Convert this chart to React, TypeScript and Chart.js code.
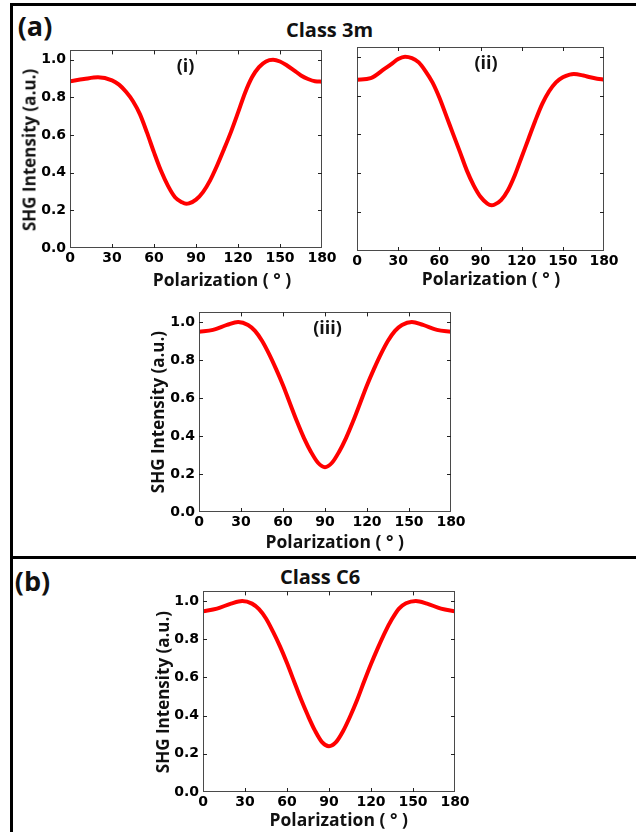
import React, { useEffect, useRef } from 'react';
import { Chart, registerables } from 'chart.js';

Chart.register(...registerables);

// ---------- data ----------
const X_TICKS = [0, 30, 60, 90, 120, 150, 180];
const Y_TICKS = [0, 0.2, 0.4, 0.6, 0.8, 1.0];

const X_TITLE = 'Polarization ( ° )';
const Y_TITLE = 'SHG Intensity (a.u.)';

// Class 3m (i)
const ANGLES_I = [0, 10, 20, 30, 35, 40, 45, 50, 55, 60, 65, 70, 75, 80, 83, 85, 90, 95, 100, 105, 110, 115, 120, 125, 130, 135, 140, 145, 150, 155, 160, 165, 170, 175, 180];
const SHG_I = [0.886, 0.898, 0.907, 0.891, 0.868, 0.83, 0.78, 0.71, 0.613, 0.508, 0.41, 0.33, 0.27, 0.243, 0.235, 0.237, 0.257, 0.297, 0.358, 0.437, 0.525, 0.617, 0.719, 0.824, 0.907, 0.961, 0.991, 1.0, 0.991, 0.97, 0.944, 0.917, 0.898, 0.886, 0.884];

// Class 3m (ii)
const ANGLES_II = [0, 10, 20, 25, 30, 35, 40, 45, 50, 55, 60, 65, 70, 75, 80, 85, 90, 95, 98, 100, 105, 110, 115, 120, 125, 130, 135, 140, 145, 150, 155, 158, 165, 170, 175, 180];
const SHG_II = [0.882, 0.89, 0.937, 0.962, 0.988, 1.0, 0.993, 0.971, 0.925, 0.868, 0.79, 0.697, 0.603, 0.51, 0.415, 0.338, 0.279, 0.244, 0.236, 0.238, 0.262, 0.313, 0.39, 0.484, 0.578, 0.672, 0.757, 0.822, 0.868, 0.894, 0.908, 0.911, 0.903, 0.894, 0.887, 0.882];

// Class 3m (iii)
const ANGLES_III = [0, 10, 20, 28, 35, 40, 45, 50, 55, 60, 65, 70, 75, 80, 85, 90, 95, 100, 105, 110, 115, 120, 125, 130, 135, 140, 145, 152, 160, 170, 180];
const SHG_III = [0.948, 0.958, 0.984, 1.0, 0.984, 0.953, 0.901, 0.832, 0.753, 0.667, 0.571, 0.476, 0.389, 0.316, 0.259, 0.236, 0.259, 0.316, 0.389, 0.476, 0.571, 0.667, 0.753, 0.832, 0.901, 0.953, 0.984, 1.0, 0.984, 0.958, 0.948];

// Class C6
const ANGLES_C6 = [0, 10, 20, 28, 35, 40, 45, 50, 55, 60, 65, 70, 75, 80, 85, 90, 95, 100, 105, 110, 115, 120, 125, 130, 135, 140, 145, 152, 160, 170, 180];
const SHG_C6 = [0.946, 0.96, 0.986, 1.0, 0.986, 0.957, 0.908, 0.839, 0.762, 0.675, 0.58, 0.485, 0.399, 0.321, 0.261, 0.24, 0.261, 0.318, 0.394, 0.48, 0.577, 0.67, 0.756, 0.836, 0.905, 0.96, 0.988, 1.0, 0.986, 0.96, 0.946];

// ---------- layout ----------
const YW = 45; // y-axis box width
const XH = 25; // x-axis box height
const PT = 10;
const PR = 20;

const TITLE_FONT = '"Open Sans", Lato, sans-serif';
const TICK_FONT = '"DejaVu Sans", sans-serif';

const framePlugin = {
  id: 'frameTicks',
  afterDraw(chart: any) {
    const { ctx, chartArea } = chart;
    const { left, top, right, bottom } = chartArea;
    const xs = chart.scales.x;
    const ys = chart.scales.y;
    ctx.save();
    ctx.strokeStyle = '#4a4a4a';
    ctx.lineWidth = 1;
    ctx.strokeRect(Math.round(left) + 0.5, Math.round(top) + 0.5, Math.round(right - left) - 1, Math.round(bottom - top) - 1);
    ctx.strokeStyle = '#222';
    ctx.beginPath();
    const tl = 4;
    X_TICKS.forEach((v) => {
      if (v === X_TICKS[0] || v === X_TICKS[X_TICKS.length - 1]) return;
      const px = Math.round(xs.getPixelForValue(v)) + 0.5;
      ctx.moveTo(px, bottom);
      ctx.lineTo(px, bottom - tl);
      ctx.moveTo(px, top);
      ctx.lineTo(px, top + tl);
    });
    Y_TICKS.forEach((v) => {
      if (v === 0) return;
      const py = Math.round(ys.getPixelForValue(v)) + 0.5;
      ctx.moveTo(left, py);
      ctx.lineTo(left + tl, py);
      ctx.moveTo(right, py);
      ctx.lineTo(right - tl, py);
    });
    ctx.stroke();
    ctx.restore();
  },
};

type Rect = { l: number; t: number; r: number; b: number };

function Panel({ angles, values, rect, showY }: { angles: number[]; values: number[]; rect: Rect; showY: boolean }) {
  const ref = useRef<HTMLCanvasElement | null>(null);
  const w = rect.r - rect.l + YW + PR;
  const h = rect.b - rect.t + PT + XH;
  useEffect(() => {
    if (!ref.current) return;
    const chart = new Chart(ref.current, {
      type: 'line',
      data: {
        datasets: [
          {
            data: angles.map((a, i) => ({ x: a, y: values[i] })),
            borderColor: '#ff0000',
            borderWidth: 4,
            pointRadius: 0,
            cubicInterpolationMode: 'monotone',
            fill: false,
          },
        ],
      },
      options: {
        animation: false,
        responsive: false,
        maintainAspectRatio: false,
        layout: { padding: { left: 0, top: PT, right: PR, bottom: 0 } },
        plugins: { legend: { display: false }, tooltip: { enabled: false } },
        scales: {
          x: {
            type: 'linear',
            min: 0,
            max: 180,
            afterBuildTicks: (s: any) => {
              s.ticks = X_TICKS.map((v) => ({ value: v }));
            },
            afterFit: (s: any) => {
              s.height = XH;
            },
            grid: { display: false, drawTicks: false },
            border: { display: false },
            ticks: {
              font: { family: TICK_FONT, weight: 'bold', size: 14 },
              color: '#000',
              padding: 2,
              maxRotation: 0,
              autoSkip: false,
              callback: (v: any) => String(v),
            },
          },
          y: {
            type: 'linear',
            min: 0,
            max: 1.05,
            afterBuildTicks: (s: any) => {
              s.ticks = Y_TICKS.map((v) => ({ value: v }));
            },
            afterFit: (s: any) => {
              s.width = YW;
            },
            grid: { display: false, drawTicks: false },
            border: { display: false },
            ticks: {
              display: showY,
              font: { family: TICK_FONT, weight: 'bold', size: 14 },
              color: '#000',
              padding: 4,
              autoSkip: false,
              callback: (v: any) => Number(v).toFixed(1),
            },
          },
        },
      } as any,
      plugins: [framePlugin],
    });
    return () => chart.destroy();
  }, []);
  return (
    <canvas
      ref={ref}
      width={w}
      height={h}
      style={{ position: 'absolute', left: rect.l - YW, top: rect.t - PT, width: w, height: h }}
    />
  );
}

function Label({ text, cx, cy, size, rotate }: { text: string; cx: number; cy: number; size: number; rotate?: boolean }) {
  return (
    <div
      style={{
        position: 'absolute',
        left: cx,
        top: cy,
        transform: `translate(-50%, -50%)${rotate ? ' rotate(-90deg)' : ''}`,
        fontFamily: TITLE_FONT,
        fontWeight: 700,
        fontSize: size,
        lineHeight: 1,
        whiteSpace: 'nowrap',
        color: '#111',
      }}
    >
      {text}
    </div>
  );
}

const line = (l: number, t: number, w: number, h: number) => (
  <div style={{ position: 'absolute', left: l, top: t, width: w, height: h, background: '#000' }} />
);

export default function App() {
  return (
    <div style={{ position: 'absolute', left: 0, top: 0, width: 636, height: 832, background: '#fff', overflow: 'hidden' }}>
      {line(10, 3, 626, 3)}
      {line(10, 3, 3, 829)}
      {line(10, 556, 626, 3)}

      <Label text="(a)" cx={35} cy={25} size={27} />
      <Label text="Class 3m" cx={329.5} cy={30} size={20} />
      <Label text="(b)" cx={32.5} cy={580} size={27} />
      <Label text="Class C6" cx={320} cy={577} size={20} />

      <Panel angles={ANGLES_I} values={SHG_I} rect={{ l: 70, t: 48, r: 322, b: 248 }} showY={true} />
      <Panel angles={ANGLES_II} values={SHG_II} rect={{ l: 357, t: 47, r: 604, b: 251 }} showY={false} />
      <Panel angles={ANGLES_III} values={SHG_III} rect={{ l: 199, t: 310, r: 451, b: 512 }} showY={true} />
      <Panel angles={ANGLES_C6} values={SHG_C6} rect={{ l: 203, t: 589, r: 455, b: 792 }} showY={true} />

      <Label text="(i)" cx={185.5} cy={64.5} size={18} />
      <Label text="(ii)" cx={486} cy={62} size={18} />
      <Label text="(iii)" cx={327.5} cy={327} size={18} />

      <Label text={X_TITLE} cx={222} cy={280} size={17.5} />
      <Label text={X_TITLE} cx={491} cy={279} size={17.5} />
      <Label text={X_TITLE} cx={334.7} cy={541.5} size={17.5} />
      <Label text={X_TITLE} cx={338.7} cy={820} size={17.5} />

      <Label text={Y_TITLE} cx={28.5} cy={149.5} size={17} rotate />
      <Label text={Y_TITLE} cx={156.7} cy={411.5} size={17} rotate />
      <Label text={Y_TITLE} cx={162} cy={691.5} size={17} rotate />
    </div>
  );
}
